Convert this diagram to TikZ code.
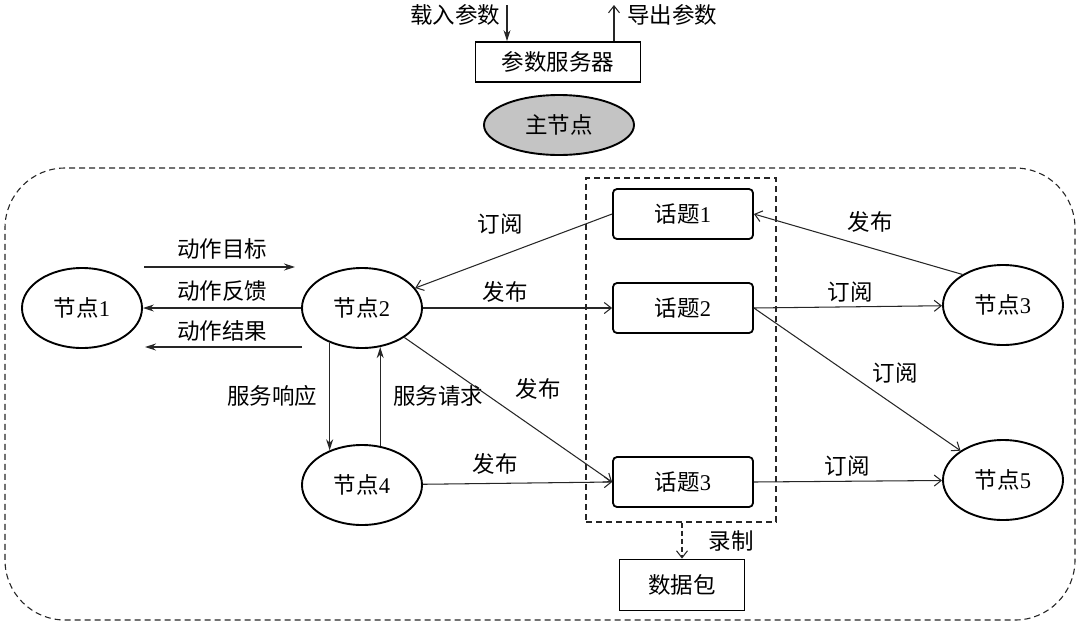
\documentclass[tikz,border=0pt]{standalone}
\usepackage{fontspec}
\setmainfont{Liberation Serif}
\newfontfamily\cjk{Noto Sans CJK SC}
\usetikzlibrary{shapes.geometric,arrows.meta}
\newcommand\dgt[1]{{\rmfamily #1}}
\begin{document}
\begin{tikzpicture}[x=1pt,y=-1pt,
  font=\fontsize{22.5}{26}\selectfont\cjk,
  ell/.style={ellipse,draw=black,line width=1.9pt,minimum width=120pt,minimum height=80pt,inner sep=0pt},
  topic/.style={draw=black,line width=1.8pt,rounded corners=4pt,minimum width=140pt,minimum height=50pt,inner sep=0pt},
  sqbox/.style={draw=black,line width=1.8pt,minimum height=40pt,inner sep=0pt},
  conn/.style={draw=black!85,line width=1.05pt},
  sub/.style={conn,-{Straight Barb[length=7pt,width=11pt]}},
  act/.style={conn,-{Stealth[length=11pt,width=7pt]}},
  grpbox/.style={draw=black!85,line width=1.1pt,dash pattern=on 6pt off 4pt},
  lbl/.style={inner sep=0pt}
]
\useasboundingbox (0,0) rectangle (1080,625);
% outer group
\node[grpbox,rounded corners=60pt,minimum width=1070pt,minimum height=452pt] (outer) at (540,394) {};
\node[grpbox,minimum width=190pt,minimum height=344pt] (grp) at (681,350) {};
% parameter server and master
\node[sqbox,minimum width=165pt] (ps) at (558,62) {参数服务器};
\node[ell,fill=black!23,minimum width=150pt,minimum height=60pt] (master) at (559,125) {主节点};
\coordinate (inTop) at (507,5);
\coordinate (outTop) at (614,5);
\draw[act] (inTop) -- (inTop |- ps.north);
\draw[sub] (outTop |- ps.north) -- (outTop);
\node[lbl] (inL) at (455,15) {载入参数};
\node[lbl] (outL) at (672,15) {导出参数};
% nodes
\node[ell] (n1) at (82,308) {节点\dgt{1}};
\node[ell] (n2) at (362,308) {节点\dgt{2}};
\node[ell] (n3) at (1003,305) {节点\dgt{3}};
\node[ell] (n4) at (362,485) {节点\dgt{4}};
\node[ell] (n5) at (1003,480) {节点\dgt{5}};
% topics
\node[topic] (t1) at (683,214) {话题\dgt{1}};
\node[topic] (t2) at (683,308) {话题\dgt{2}};
\node[topic] (t3) at (683,482) {话题\dgt{3}};
\node[sqbox,minimum width=125pt,minimum height=51pt] (pkg) at (682,585) {数据包};
% action
\coordinate (a1s) at (144,267);
\coordinate (a1e) at (295,267);
\coordinate (a3s) at (302,347);
\coordinate (a3e) at (145,347);
\draw[act] (a1s) -- (a1e);
\draw[act] (n2.west) -- (n1.east);
\draw[act] (a3s) -- (a3e);
\node[lbl] (l1) at (222,249) {动作目标};
\node[lbl] (l2) at (222,291) {动作反馈};
\node[lbl] (l3) at (222,331) {动作结果};
% service
\draw[act] (n2.227) -- (n4.133);
\draw[act] (n4.65) -- (n2.295);
\node[lbl] (l4) at (272,396) {服务响应};
\node[lbl] (l5) at (438,396) {服务请求};
% topics connectors
\draw[sub] (t1.west) -- (n2);
\draw[sub] (n2) -- (t2.west);
\draw[sub] (n2) -- (t3.west);
\draw[sub] (n4) -- (t3.west);
\draw[sub] (n3.143) -- (t1.east);
\draw[sub] (t2.east) -- (n3);
\draw[sub] (t2.east) -- (n5);
\draw[sub] (t3.east) -- (n5);
\node[lbl] (l6) at (500,224) {订阅};
\node[lbl] (l7) at (505,292) {发布};
\node[lbl] (l8) at (538,389) {发布};
\node[lbl] (l9) at (495,464) {发布};
\node[lbl] (l10) at (870,222) {发布};
\node[lbl] (l11) at (850,292) {订阅};
\node[lbl] (l12) at (895,373) {订阅};
\node[lbl] (l13) at (847,466) {订阅};
% record
\draw[sub,dash pattern=on 5pt off 3pt] (grp.south -| pkg.north) -- (pkg.north);
\node[lbl] (l14) at (731,541) {录制};
\end{tikzpicture}
\end{document}
